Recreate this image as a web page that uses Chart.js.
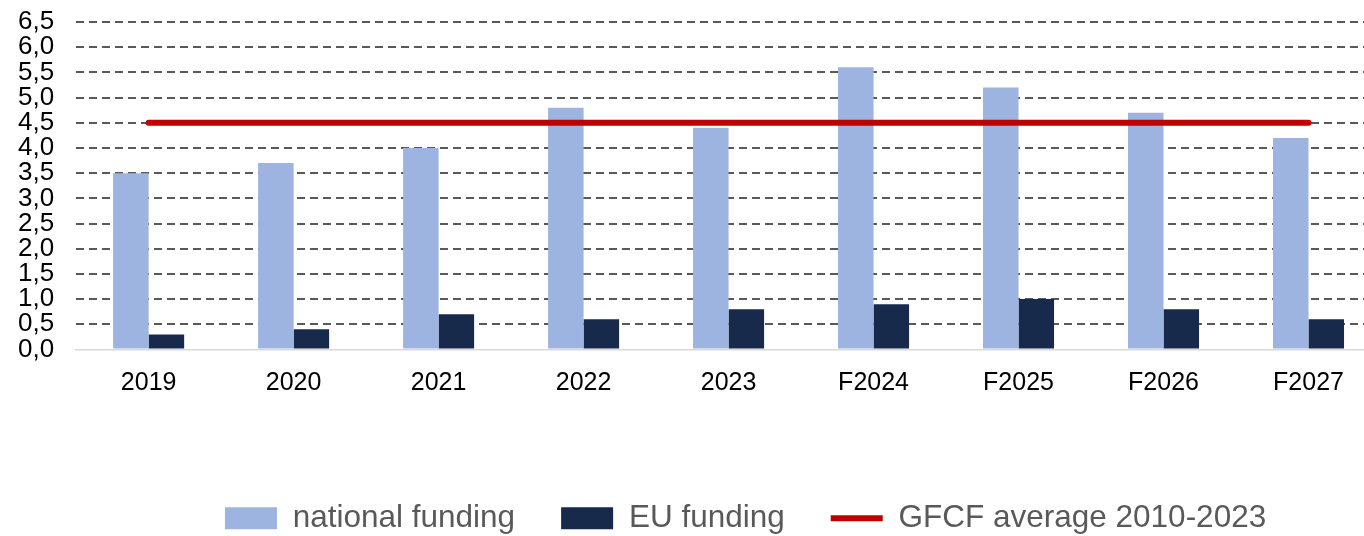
<!DOCTYPE html>
<html>
<head>
<meta charset="utf-8">
<script src="https://cdn.jsdelivr.net/npm/chart.js@4"></script>
<style>
    html, body { margin: 0; padding: 0; background: #fff; overflow: hidden; }
    #wrap { width: 1381px; height: 544px; }
</style>
</head>
<body>
<div id="wrap"><canvas id="fundingChart"></canvas></div>
<script>
const years = ['2019', '2020', '2021', '2022', '2023', 'F2024', 'F2025', 'F2026', 'F2027'];
const nationalFunding = [3.5, 3.7, 4.0, 4.8, 4.4, 5.6, 5.2, 4.7, 4.2];
const euFunding = [0.3, 0.4, 0.7, 0.6, 0.8, 0.9, 1.0, 0.8, 0.6];
const gfcfAverage = [4.5, 4.5, 4.5, 4.5, 4.5, 4.5, 4.5, 4.5, 4.5];

const FONT = 'Liberation Sans, Arial, sans-serif';

function createFundingChart() {
    const ctx = document.getElementById('fundingChart');
    if (!ctx) return;

    new Chart(ctx, {
        type: 'bar',
        data: {
            labels: years,
            datasets: [{
                label: 'national funding',
                data: nationalFunding,
                backgroundColor: '#9EB4E0',
                borderWidth: 0,
                order: 1
            }, {
                label: 'EU funding',
                data: euFunding,
                backgroundColor: '#172A4C',
                borderWidth: 0,
                order: 1
            }, {
                type: 'line',
                label: 'GFCF average 2010-2023',
                data: gfcfAverage,
                borderColor: '#C00000',
                backgroundColor: '#C00000',
                borderWidth: 6,
                borderCapStyle: 'round',
                pointRadius: 0,
                pointHoverRadius: 0,
                order: 0
            }]
        },
        options: {
            responsive: true,
            maintainAspectRatio: false,
            animation: false,
            datasets: {
                bar: {
                    categoryPercentage: 0.49,
                    barPercentage: 1.0
                }
            },
            layout: {
                padding: { top: 22, left: -4, right: 0, bottom: 0 }
            },
            scales: {
                x: {
                    grid: { display: false },
                    border: { color: '#D9D9D9', width: 1.5 },
                    ticks: {
                        color: '#000',
                        padding: 11,
                        maxRotation: 0,
                        autoSkip: false,
                        font: { family: FONT, size: 25 }
                    },
                    afterFit: function(scale) {
                        scale.height += 47;
                    }
                },
                y: {
                    min: 0,
                    max: 6.5,
                    border: { display: false, dash: [8, 5] },
                    grid: {
                        drawTicks: false,
                        color: function(c) {
                            return c.tick && c.tick.value === 0 ? 'rgba(0,0,0,0)' : '#595959';
                        },
                        lineWidth: 2
                    },
                    ticks: {
                        stepSize: 0.5,
                        autoSkip: false,
                        color: '#000',
                        padding: 22,
                        font: { family: FONT, size: 26 },
                        callback: function(v) {
                            return v.toFixed(1).replace('.', ',');
                        }
                    },
                    // the label padding otherwise pushes the plot top down too far
                    afterFit: function(scale) {
                        scale.paddingTop = 0;
                    }
                }
            },
            plugins: {
                legend: {
                    position: 'bottom',
                    fullSize: false,
                    labels: {
                        usePointStyle: true,
                        pointStyleWidth: 52,
                        boxHeight: 22,
                        padding: 46,
                        color: '#595959',
                        font: { family: FONT, size: 31.5 },
                        sort: (a, b) => a.datasetIndex - b.datasetIndex,
                        generateLabels: function(chart) {
                            const items = Chart.defaults.plugins.legend.labels.generateLabels(chart);
                            items.forEach(item => {
                                const ds = chart.data.datasets[item.datasetIndex];
                                item.pointStyle = ds.type === 'line' ? 'line' : 'rect';
                            });
                            return items;
                        }
                    }
                },
                tooltip: { enabled: false }
            }
        },
        plugins: [{
            // nudge the legend row a bit right, like the original
            id: 'legendShift',
            afterLayout: function(chart) {
                chart.legend.left += 17;
                chart.legend.right += 17;
            }
        }]
    });
}

createFundingChart();
</script>
</body>
</html>
